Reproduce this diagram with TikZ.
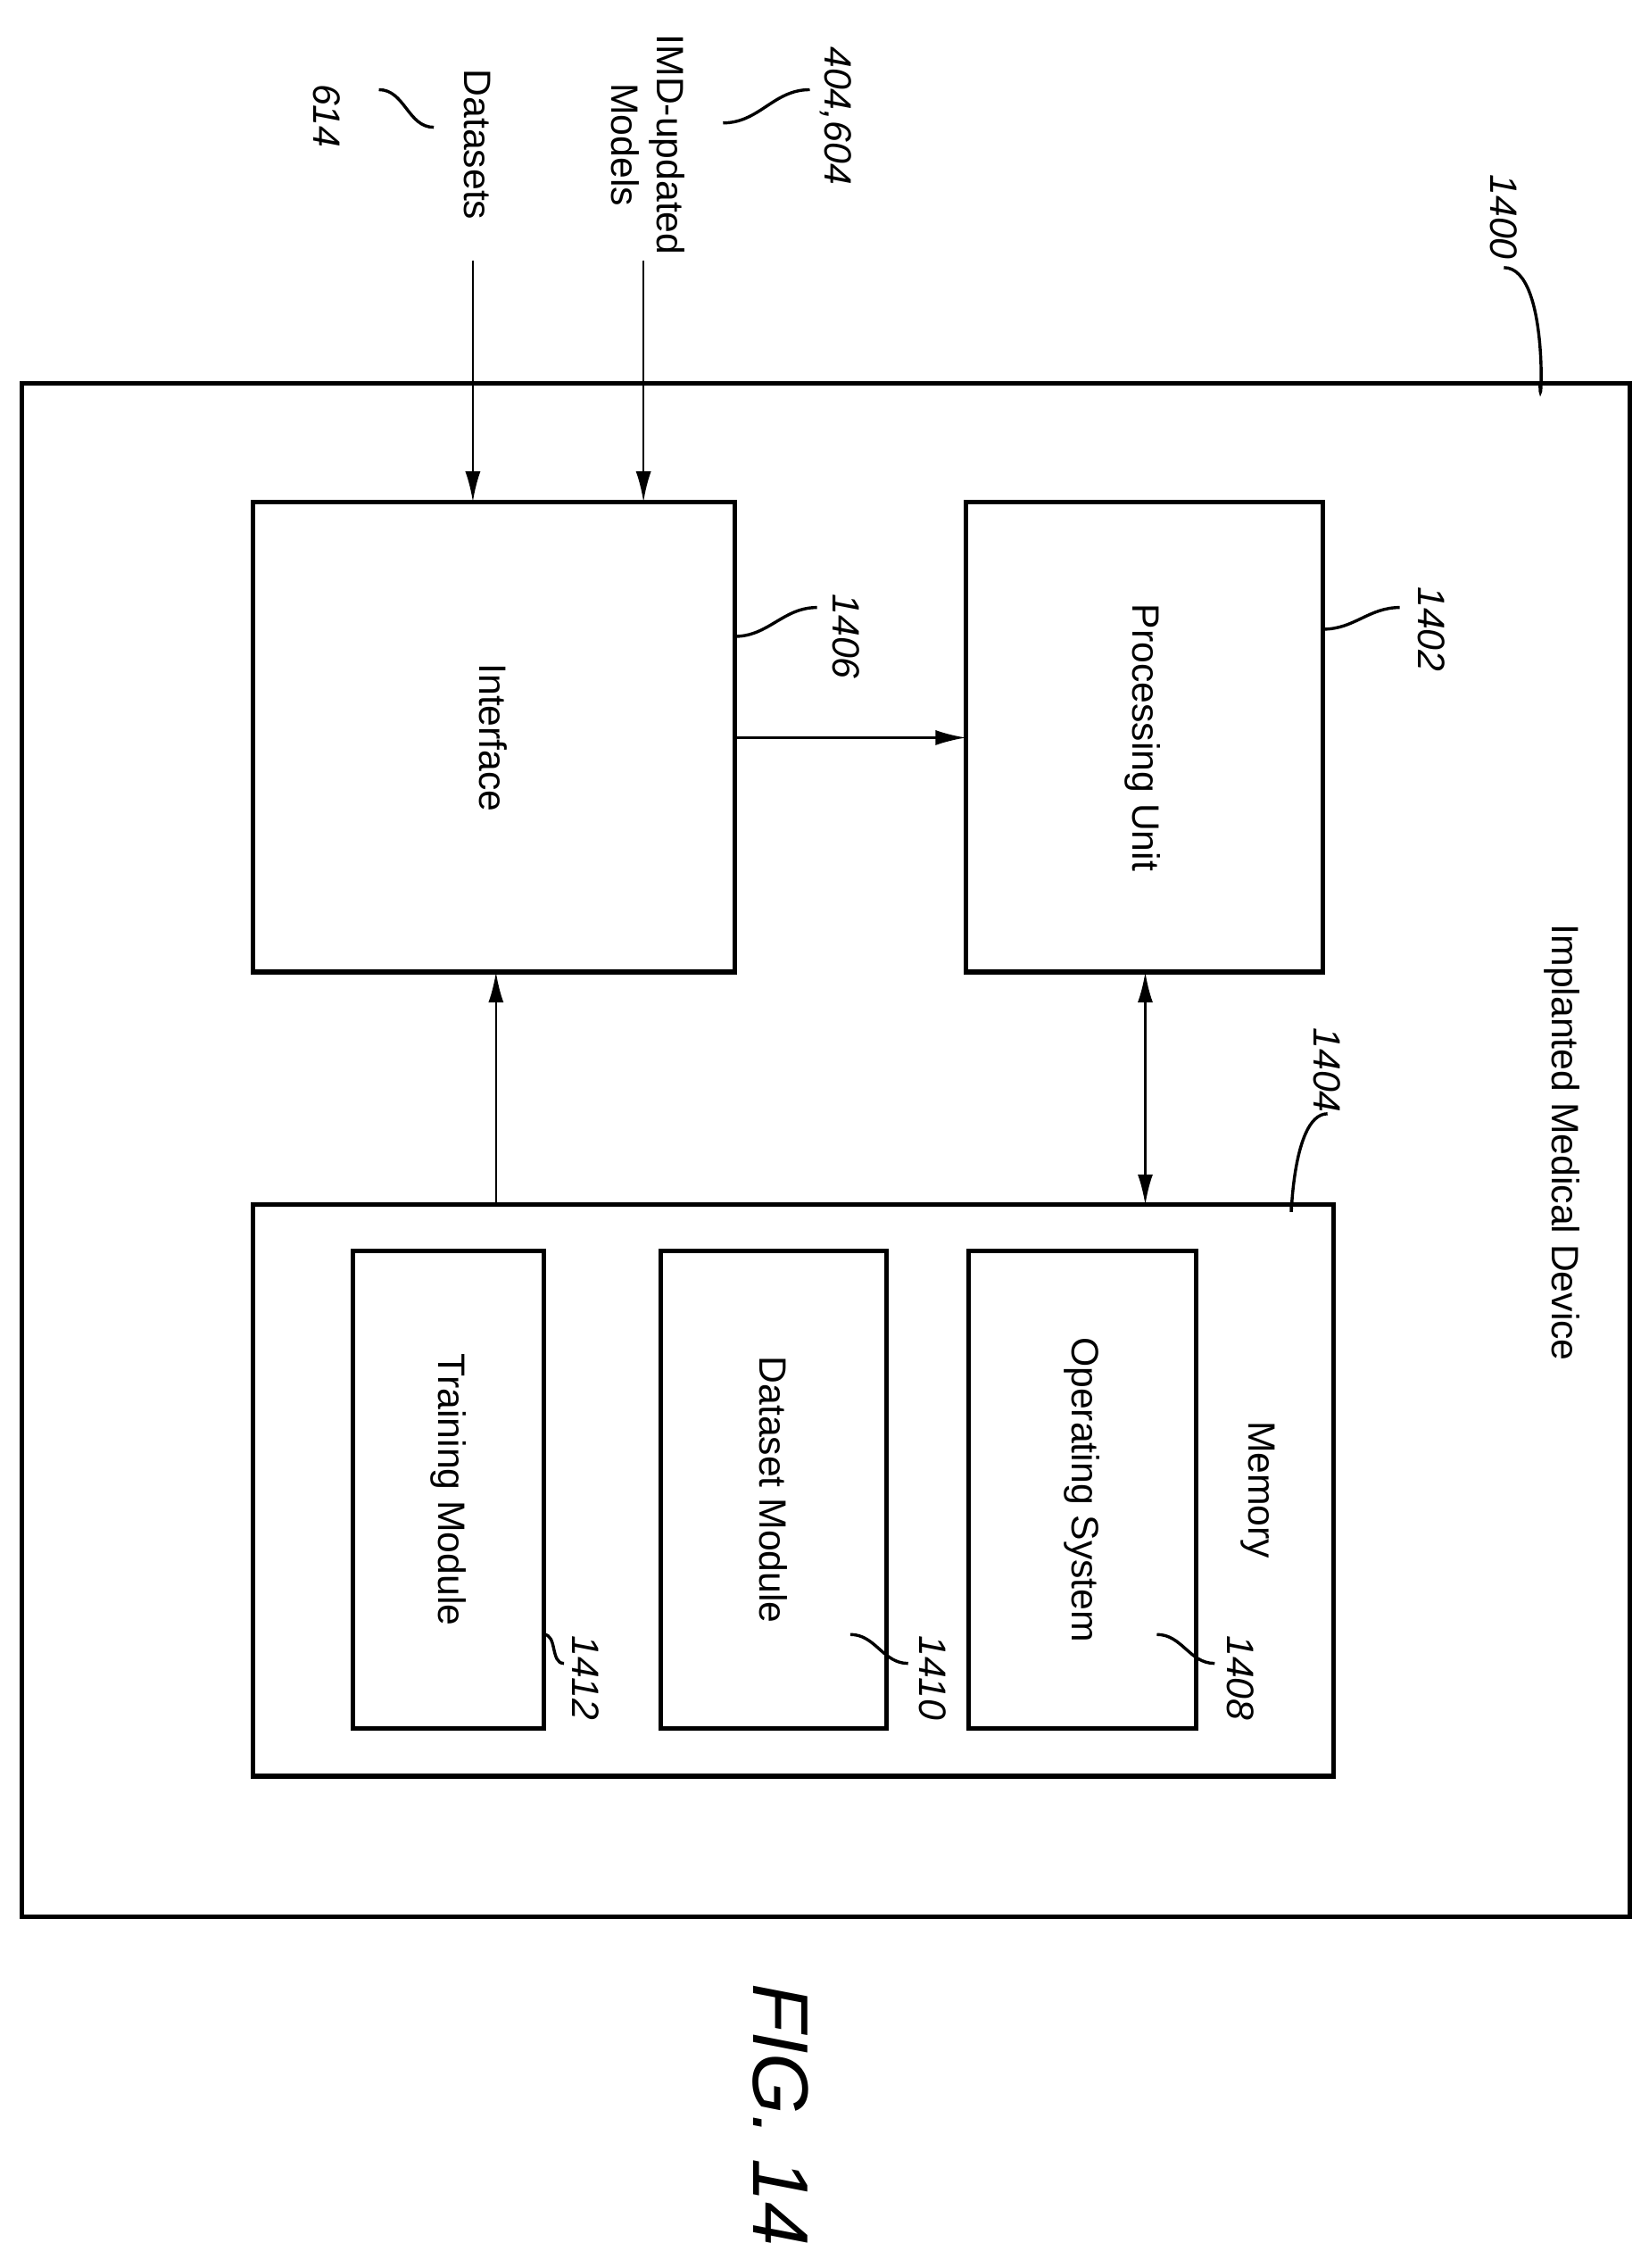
\documentclass[tikz,border=0pt]{standalone}
\usepackage{fontspec}
\setmainfont{Liberation Sans}
\usetikzlibrary{arrows.meta}

\tikzset{
  blk/.style={draw,line width=1.8pt},
  txt/.style={rotate=-90,font=\fontsize{15}{18}\selectfont,align=center},
  ref/.style={rotate=-90,font=\fontsize{15}{18}\selectfont\itshape},
  lead/.style={line width=1.2pt},
  link/.style={line width=0.9pt,-{Latex[length=12pt,width=6pt]}}
}

\begin{document}
\begin{tikzpicture}[x=0.02cm,y=-0.02cm]
  \useasboundingbox (0,0) rectangle (1140,1568);

  % boxes
  \draw[blk] (15,265) rectangle (1127,1325);
  \draw[blk] (175,347) rectangle (508,672);
  \draw[blk] (668,347) rectangle (915,672);
  \draw[blk] (175,833) rectangle (922,1228);
  \draw[blk] (670,865) rectangle (827,1195);
  \draw[blk] (457,865) rectangle (613,1195);
  \draw[blk] (244,865) rectangle (376,1195);

  % texts
  \node[txt] (intf) at (341,510) {Interface};
  \node[txt] (proc) at (790,510) {Processing Unit};
  \node[txt] (imd) at (1080,790) {Implanted Medical Device};
  \node[txt] (mem) at (870,1030) {Memory};
  \node[txt] (os) at (748,1030) {Operating System};
  \node[txt] (dsm) at (535,1030) {Dataset Module};
  \node[txt] (trm) at (310,1030) {Training Module};
  \node[txt] (dsin) at (330,100) {Datasets};
  \node[txt] (mdin) at (448,100) {IMD-updated\\Models};
  \node[rotate=-90,font=\fontsize{31}{36}\selectfont\itshape] (fig) at (540,1462) {FIG. 14};

  % connectors
  \coordinate (a1) at (327,180);
  \coordinate (a2) at (445,180);
  \draw[link] (a1) -- (327,347);
  \draw[link] (a2) -- (445,347);
  \draw[link] (508,510) -- (668,510);
  \draw[line width=0.9pt,{Latex[length=12pt,width=6pt]}-{Latex[length=12pt,width=6pt]}] (792,672) -- (792,833);
  \draw[link] (343,833) -- (343,672);

  % reference numerals
  \node[ref] (r614) at (226,80) {614};
  \node[ref] (r404) at (578,80) {404,604};
  \node[ref] (r1400) at (1040,150) {1400};
  \node[ref] (r1406) at (585,440) {1406};
  \node[ref] (r1402) at (990,435) {1402};
  \node[ref] (r1404) at (918,740) {1404};
  \node[ref] (r1408) at (858,1160) {1408};
  \node[ref] (r1410) at (645,1160) {1410};
  \node[ref] (r1412) at (405,1160) {1412};

  \draw[lead] (262,62) to[out=0,in=180] (300,88);
  \draw[lead] (560,62) to[out=180,in=0] (500,85);
  \draw[lead] (1040,185) to[out=0,in=-90] (1065,265);
  \draw[lead] (508,440) to[out=0,in=180] (565,420);
  \draw[lead] (915,435) to[out=0,in=180] (968,420);
  \draw[lead] (893,833) to[out=-90,in=180] (918,770);
  \draw[lead] (800,1130) to[out=0,in=180] (840,1150);
  \draw[lead] (588,1130) to[out=0,in=180] (628,1150);
  \draw[lead] (376,1130) to[out=0,in=180] (390,1150);
\end{tikzpicture}
\end{document}
